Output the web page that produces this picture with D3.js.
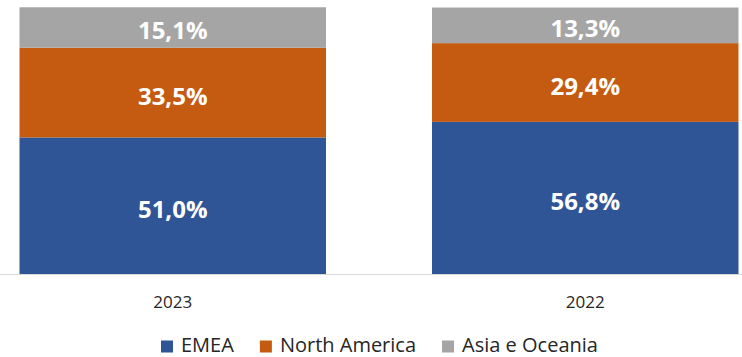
<!DOCTYPE html>
<html>
<head>
<meta charset="utf-8">
<script src="https://cdn.jsdelivr.net/npm/d3@7"></script>
<style>
  html, body { margin: 0; padding: 0; background: #fff; }
  svg { display: block; }
</style>
</head>
<body>
<svg id="chart" width="742" height="357"></svg>
<script>
const categories = ["2023", "2022"];
const seriesNames = ["EMEA", "North America", "Asia e Oceania"];
const emea = [51.0, 56.8];
const northAmerica = [33.5, 29.4];
const asiaOceania = [15.1, 13.3];
const colors = ["#2F5597", "#C55A11", "#A5A5A5"];

const svg = d3.select("#chart");
const W = 742, H = 357;

const rows = categories.map((c, i) => ({
  cat: c, "EMEA": emea[i], "North America": northAmerica[i], "Asia e Oceania": asiaOceania[i]
}));
const stacked = d3.stack().keys(seriesNames)(rows);

const x = d3.scaleBand().domain(categories).range([-33.5, 791.5])
  .paddingInner(0.257).paddingOuter(0.1285);
const y = d3.scaleLinear().domain([0, 100]).range([274, 6.2]);
const color = d3.scaleOrdinal().domain(seriesNames).range(colors);

const fmt = v => v.toFixed(1).replace(".", ",") + "%";

const g = svg.append("g");
stacked.forEach(layer => {
  const lg = g.append("g");
  lg.selectAll("rect").data(layer).join("rect")
    .attr("x", d => x(d.data.cat))
    .attr("width", x.bandwidth())
    .attr("y", d => y(d[1]))
    .attr("height", d => y(d[0]) - y(d[1]))
    .attr("fill", color(layer.key));
  lg.selectAll("text").data(layer).join("text")
    .attr("x", d => x(d.data.cat) + x.bandwidth() / 2)
    .attr("y", d => (y(d[0]) + y(d[1])) / 2 + 12)
    .attr("text-anchor", "middle")
    .attr("font-family", "'Open Sans', sans-serif")
    .attr("font-weight", "bold")
    .attr("font-size", 24)
    .attr("fill", "#fff")
    .text(d => fmt(d[1] - d[0]));
});

// axis baseline
svg.append("line")
  .attr("x1", 0).attr("x2", W)
  .attr("y1", y(0) + 0.5).attr("y2", y(0) + 0.5)
  .attr("stroke", "#D9D9D9").attr("stroke-width", 1);

// category labels
svg.append("g").selectAll("text").data(categories).join("text")
  .attr("x", d => x(d) + x.bandwidth() / 2)
  .attr("y", 307.5)
  .attr("text-anchor", "middle")
  .attr("font-family", "'Open Sans', sans-serif")
  .attr("font-size", 17)
  .attr("fill", "#262626")
  .text(d => d);

// legend
const legend = svg.append("g");
let lx = 161;
seriesNames.forEach(name => {
  legend.append("rect")
    .attr("x", lx).attr("y", 340.5)
    .attr("width", 12).attr("height", 12)
    .attr("fill", color(name));
  const t = legend.append("text")
    .attr("x", lx + 20).attr("y", 352)
    .attr("font-family", "'Open Sans', sans-serif")
    .attr("font-size", 20)
    .attr("fill", "#262626")
    .text(name);
  lx += 20 + t.node().getComputedTextLength() + 26;
});
</script>
</body>
</html>
